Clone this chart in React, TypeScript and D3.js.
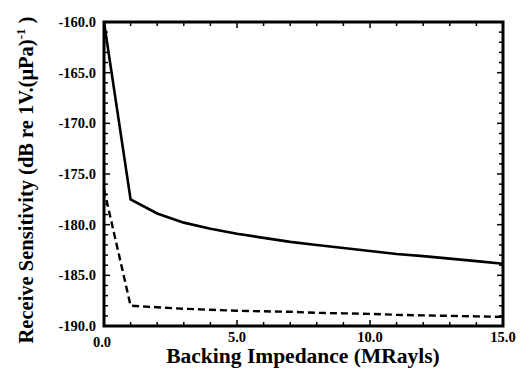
import React, { useEffect, useRef } from "react";
import * as d3 from "d3";

// backing impedance (MRayls)
const impedance = [0, 1, 2, 3, 4, 5, 6, 7, 8, 9, 10, 11, 12, 13, 14, 15];
// receive sensitivity, solid curve
const solidValues = [-160.0, -177.5, -178.9, -179.8, -180.4, -180.9, -181.3, -181.7, -182.0, -182.3, -182.6, -182.9, -183.1, -183.35, -183.6, -183.85];
// receive sensitivity, dashed curve
const dashedValues = [-176.5, -188.0, -188.15, -188.3, -188.4, -188.5, -188.55, -188.6, -188.7, -188.75, -188.8, -188.9, -188.95, -189.0, -189.05, -189.1];

const xTicks = [0, 5, 10, 15];
const yTicks = [-160, -165, -170, -175, -180, -185, -190];

const App = () => {
  const ref = useRef<SVGSVGElement>(null);

  useEffect(() => {
    const width = 532;
    const height = 379;
    const margin = { top: 22, right: 29, bottom: 53, left: 104 };
    const font = "'Liberation Serif', 'Times New Roman', serif";

    const svg = d3.select(ref.current);
    svg.selectAll("*").remove();
    svg.attr("width", width).attr("height", height);

    const x = d3.scaleLinear().domain([0, 15]).range([margin.left, width - margin.right]);
    const y = d3.scaleLinear().domain([-190, -160]).range([height - margin.bottom, margin.top]);

    const x0 = margin.left, x1 = width - margin.right;
    const y0 = height - margin.bottom, y1 = margin.top;

    // minor and major ticks, pointing inward on all four sides
    const tickG = svg.append("g").attr("stroke", "black").attr("stroke-width", 1.5);
    d3.range(0, 16, 1).forEach(v => {
      const len = v % 5 === 0 ? 6 : 4;
      tickG.append("line").attr("x1", x(v)).attr("x2", x(v)).attr("y1", y0).attr("y2", y0 - len);
      tickG.append("line").attr("x1", x(v)).attr("x2", x(v)).attr("y1", y1).attr("y2", y1 + len);
    });
    d3.range(-190, -159, 1).forEach(v => {
      const len = v % 5 === 0 ? 6 : 4;
      tickG.append("line").attr("x1", x0).attr("x2", x0 + len).attr("y1", y(v)).attr("y2", y(v));
      tickG.append("line").attr("x1", x1).attr("x2", x1 - len).attr("y1", y(v)).attr("y2", y(v));
    });

    // frame
    svg.append("rect")
      .attr("x", x0).attr("y", y1)
      .attr("width", x1 - x0).attr("height", y0 - y1)
      .attr("fill", "none").attr("stroke", "black").attr("stroke-width", 3);

    // tick labels
    svg.append("g").selectAll("text")
      .data(yTicks)
      .enter()
      .append("text")
      .attr("x", x0 - 8)
      .attr("y", d => y(d) + 5)
      .attr("text-anchor", "end")
      .attr("font-family", font)
      .attr("font-weight", "bold")
      .attr("font-size", 14.5)
      .text(d => d.toFixed(1));

    svg.append("g").selectAll("text")
      .data(xTicks)
      .enter()
      .append("text")
      .attr("x", d => (d === 0 ? x(d) - 2 : x(d)))
      .attr("y", d => (d === 0 ? 347 : 342))
      .attr("text-anchor", "middle")
      .attr("font-family", font)
      .attr("font-weight", "bold")
      .attr("font-size", 14.5)
      .text(d => d.toFixed(1));

    // curves
    const line = d3.line<number>()
      .x((d, i) => x(impedance[i]))
      .y(d => y(d));

    svg.append("path")
      .datum(solidValues)
      .attr("d", line)
      .attr("fill", "none")
      .attr("stroke", "black")
      .attr("stroke-width", 2.6);

    svg.append("path")
      .datum(dashedValues)
      .attr("d", line)
      .attr("fill", "none")
      .attr("stroke", "black")
      .attr("stroke-width", 2.4)
      .attr("stroke-dasharray", "7,4");

    // axis titles
    svg.append("text")
      .attr("x", 303)
      .attr("y", 363)
      .attr("text-anchor", "middle")
      .attr("font-family", font)
      .attr("font-weight", "bold")
      .attr("font-size", 21.5)
      .text("Backing Impedance (MRayls)");

    const yTitle = svg.append("text")
      .attr("transform", "translate(33, 180) rotate(-90)")
      .attr("text-anchor", "middle")
      .attr("font-family", font)
      .attr("font-weight", "bold")
      .attr("font-size", 20.5);
    yTitle.append("tspan").text("Receive Sensitivity (dB re 1V.(\u03bcPa)");
    yTitle.append("tspan").attr("dy", -8).attr("font-size", 13).text("-1");
    yTitle.append("tspan").attr("dy", 8).text(" )");
  }, []);

  return (
    <div style={{ margin: -8 }}>
      <svg ref={ref}></svg>
    </div>
  );
};

export default App;
